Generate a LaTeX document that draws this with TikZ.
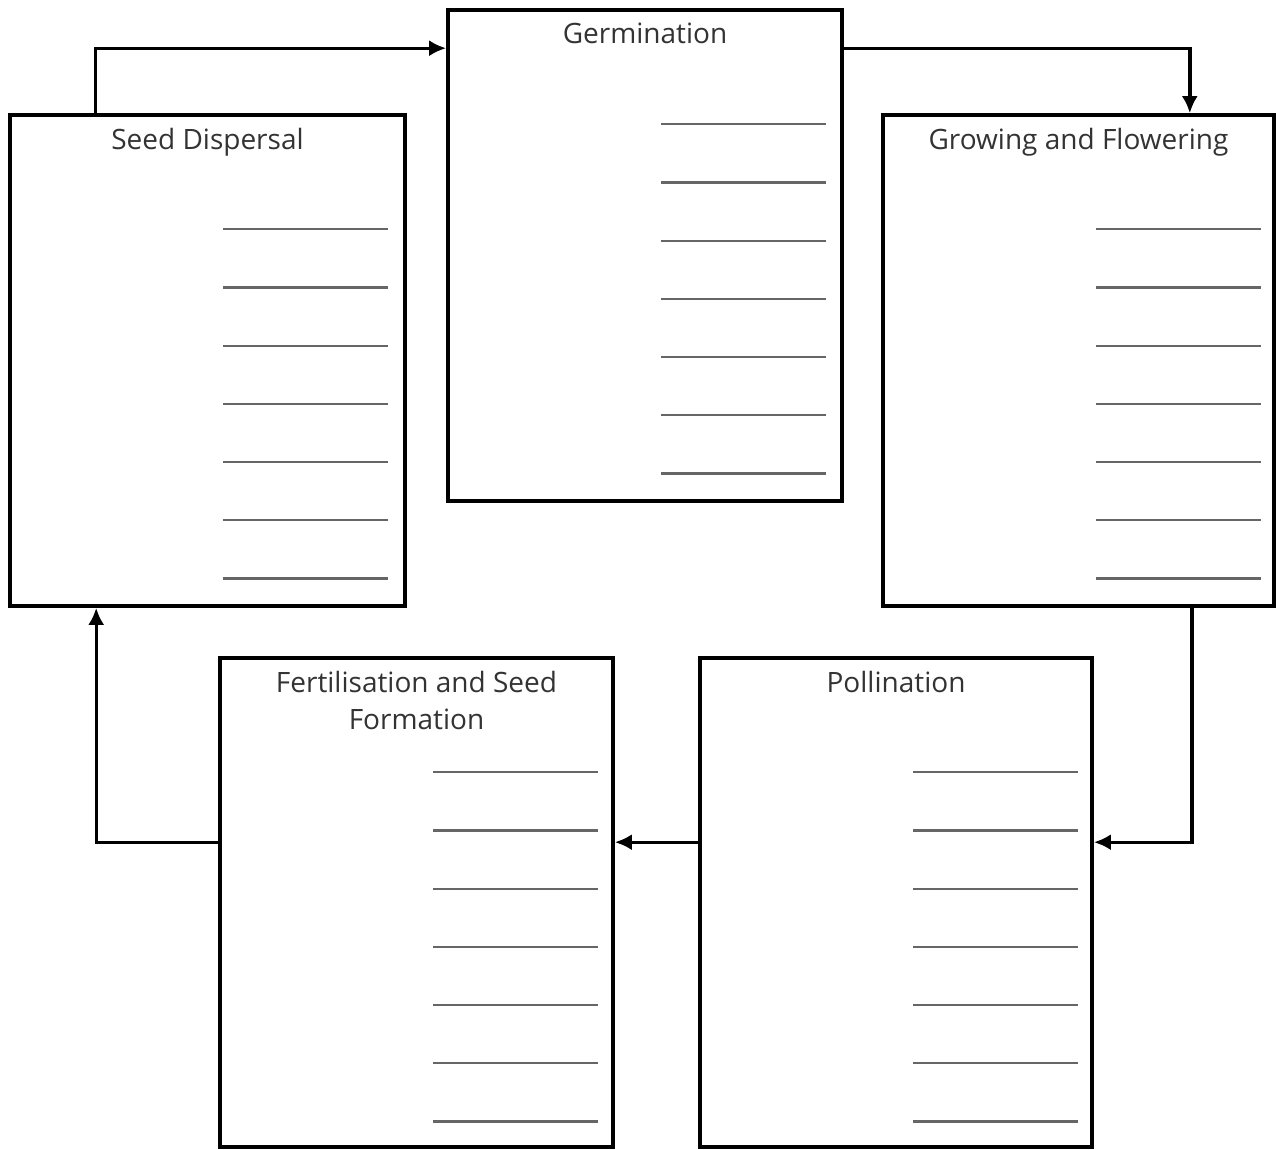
\documentclass[tikz,border=0pt]{standalone}
\usepackage{fontspec}
\setmainfont{Open Sans}
\usetikzlibrary{arrows.meta}
\definecolor{inkgrey}{HTML}{333333}
\definecolor{rulegrey}{HTML}{666666}
\tikzset{
	stage/.style={draw=black, line width=3.6pt, rectangle, inner sep=0pt},
	stagetitle/.style={anchor=north, text=inkgrey, font=\fontsize{28}{37}\selectfont, align=center, inner sep=0pt},
	flow/.style={draw=black, line width=3.4pt, -{Latex[length=17pt,width=16pt]}},
	writeline/.style={draw=rulegrey, line width=2.2pt}
}
% seven answer lines inside a stage box
\newcommand{\answerlines}[1]{%
	\foreach \i in {0,...,6}
		\draw[writeline] ([shift={(215,116+58.2*\i)}]#1.north west) -- ++(165,0);
}

\begin{document}
\begin{tikzpicture}[x=1pt, y=-1pt]
			\useasboundingbox (0,0) rectangle (1276,1149);
			\node[stage, minimum width=395pt, minimum height=491pt] (disp) at (207.5,360.5) {};
			\node[stage, minimum width=394pt, minimum height=491pt] (germ) at (645,255.5) {};
			\node[stage, minimum width=391pt, minimum height=491pt] (grow) at (1078.5,360.5) {};
			\node[stage, minimum width=393pt, minimum height=489pt] (fert) at (416.5,902.5) {};
			\node[stage, minimum width=392pt, minimum height=489pt] (poll) at (896,902.5) {};

			\node[stagetitle] (disp-t) at ([yshift=-15pt]disp.north) {Seed Dispersal};
			\node[stagetitle] (germ-t) at ([yshift=-15pt]germ.north) {Germination};
			\node[stagetitle] (grow-t) at ([yshift=-15pt]grow.north) {Growing and Flowering};
			\node[stagetitle] (fert-t) at ([yshift=-15pt]fert.north) {Fertilisation and Seed\\Formation};
			\node[stagetitle] (poll-t) at ([yshift=-15pt]poll.north) {Pollination};

			\answerlines{disp}
			\answerlines{germ}
			\answerlines{grow}
			\answerlines{fert}
			\answerlines{poll}

			\draw[flow] ([xshift=87pt]disp.north west) |- ([yshift=-40pt]germ.north west);
			\draw[flow] ([yshift=-40pt]germ.north east) -| ([xshift=-86pt]grow.north east);
			\draw[flow] ([xshift=-84pt]grow.south east) |- ([yshift=-186pt]poll.north east);
			\draw[flow] ([yshift=-186pt]poll.north west) -- ([yshift=-186pt]fert.north east);
			\draw[flow] ([yshift=-186pt]fert.north west) -| ([xshift=88pt]disp.south west);
		\end{tikzpicture}
\end{document}
